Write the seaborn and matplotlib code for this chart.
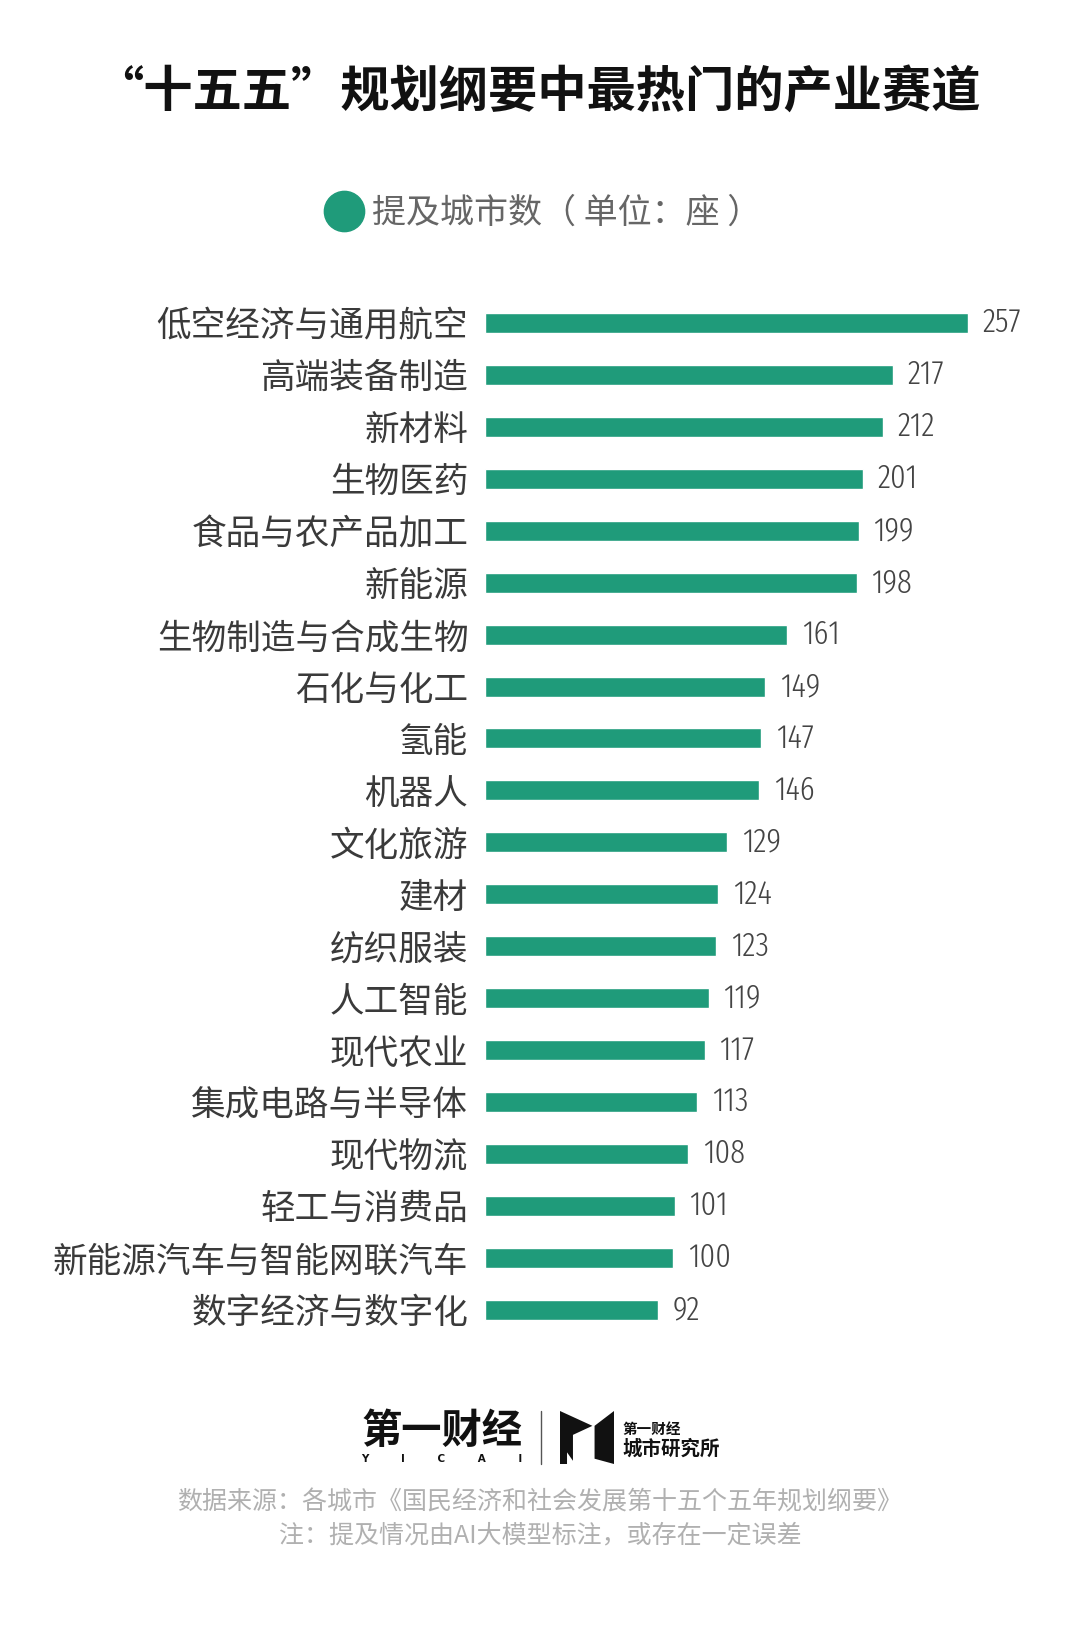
import os
import matplotlib
matplotlib.use("Agg")
import matplotlib.pyplot as plt
from matplotlib import font_manager
from matplotlib.font_manager import FontProperties
from matplotlib.lines import Line2D
from matplotlib.patches import Polygon
import seaborn as sns
import pandas as pd

# data
industries = ['低空经济与通用航空', '高端装备制造', '新材料', '生物医药', '食品与农产品加工',
              '新能源', '生物制造与合成生物', '石化与化工', '氢能', '机器人',
              '文化旅游', '建材', '纺织服装', '人工智能', '现代农业',
              '集成电路与半导体', '现代物流', '轻工与消费品', '新能源汽车与智能网联汽车',
              '数字经济与数字化']
counts = [257, 217, 212, 201, 199, 198, 161, 149, 147, 146,
          129, 124, 123, 119, 117, 113, 108, 101, 100, 92]
series_name = '提及城市数（单位：座）'
title = '“十五五”规划纲要中最热门的产业赛道'
source_note = '数据来源：各城市《国民经济和社会发展第十五个五年规划纲要》'
ai_note = '注：提及情况由AI大模型标注，或存在一定误差'

GREEN = '#1f9b7a'
W, H = 1080, 1626

sns.set_style('white')
plt.rcParams['font.family'] = ['Noto Sans CJK SC', 'DejaVu Sans']


def narrow_font(size):
    """Pick the narrowest light face that is installed for the value labels."""
    files = [f.fname for f in font_manager.fontManager.ttflist]
    for key in ('ExtraCondensedLight', 'ExtraCondensedThin', 'ExtraCondensed',
                'CondensedLight', 'Condensed', 'Narrow'):
        hits = sorted(p for p in files
                      if key.lower() in os.path.basename(p).replace('-', '').lower()
                      and 'italic' not in p.lower())
        if hits:
            # prefer Noto Sans when several families have the face
            noto = [p for p in hits if 'notosans' in os.path.basename(p).lower()]
            return FontProperties(fname=(noto or hits)[0], size=size)
    return FontProperties(family='DejaVu Sans', size=size * 0.8)


df = pd.DataFrame({'industry': industries, 'count': counts})

fig = plt.figure(figsize=(W / 100, H / 100), dpi=100)
fig.patch.set_facecolor('white')

# main bar axes, placed in pixel terms
left, right = 485.3, 485.3 + 300 * 1.877
top, bottom = 297.0, 1335.7
ax = fig.add_axes([left / W, 1 - bottom / H, (right - left) / W, (bottom - top) / H])

sns.barplot(data=df, x='count', y='industry', orient='h', color=GREEN,
            width=0.385, saturation=1, ax=ax)
ax.set_xlim(0, 300)
ax.set_ylim(len(industries) - 0.5, -0.5)
ax.set_xlabel('')
ax.set_ylabel('')
ax.set_xticks([])
sns.despine(ax=ax, left=True, bottom=True)
ax.tick_params(axis='y', length=0, pad=12.2, labelsize=24.9, labelcolor='#3a3a3a')
for lab in ax.get_yticklabels():
    lab.set_fontweight('light')

ax.bar_label(ax.containers[0], padding=10.5, color='#444444',
             fontproperties=narrow_font(24))

# title
fig.text(0.498, 1 - 92 / H, title, ha='center', va='center',
         fontsize=35.5, fontweight='heavy', color='#111111')

# legend
handle = Line2D([], [], marker='o', linestyle='', markersize=29,
                markerfacecolor=GREEN, markeredgecolor=GREEN)
leg = fig.legend([handle], [series_name.replace('（', '（ ').replace('）', ' ）')],
                 loc='center', bbox_to_anchor=(0.503, 1 - 213 / H), frameon=False,
                 fontsize=24.5, handlelength=1.1, handletextpad=0.3)
for t in leg.get_texts():
    t.set_color('#666666')
    t.set_fontweight('light')

# footer logo (text + simple mark)
fig.text(442 / W, 1 - 1431 / H, '第一财经', ha='center', va='center',
         fontsize=29, fontweight='heavy', color='#111111')
fig.text(442 / W, 1 - 1459 / H, 'Y         I         C         A         I',
         ha='center', va='center', fontsize=7.5, fontweight='bold', color='#111111',
         family=['DejaVu Sans'])
fig.add_artist(Line2D([541 / W, 541 / W], [1 - 1411 / H, 1 - 1464 / H],
                      transform=fig.transFigure, color='#555555', linewidth=1))
mark = fig.add_axes([560 / W, 1 - 1464 / H, 54 / W, 53 / H])
mark.set_xlim(0, 1)
mark.set_ylim(0, 1)
mark.axis('off')
mark.add_patch(Polygon([(0, 1), (0.6, 0.72), (0.24, 0.55), (0.24, 0.06),
                        (0.13, 0.22), (0.13, 0.0), (0, 0)], closed=True,
                       facecolor='#111111', edgecolor='none'))
mark.add_patch(Polygon([(0.64, 0.72), (1, 1), (1, 0), (0.64, 0.1)], closed=True,
                       facecolor='#111111', edgecolor='none'))
fig.text(622 / W, 1 - 1429 / H, '第一财经', ha='left', va='center',
         fontsize=10.5, fontweight='bold', color='#111111')
fig.text(622 / W, 1 - 1449 / H, '城市研究所', ha='left', va='center',
         fontsize=14, fontweight='bold', color='#111111')

# footer notes
fig.text(0.5, 1 - 1502 / H, source_note, ha='center', va='center',
         fontsize=18, color='#b0b0b0', fontweight='light')
fig.text(0.5, 1 - 1535 / H, ai_note, ha='center', va='center',
         fontsize=18, color='#b0b0b0', fontweight='light')

fig.savefig('out.png', dpi=100, facecolor='white')
